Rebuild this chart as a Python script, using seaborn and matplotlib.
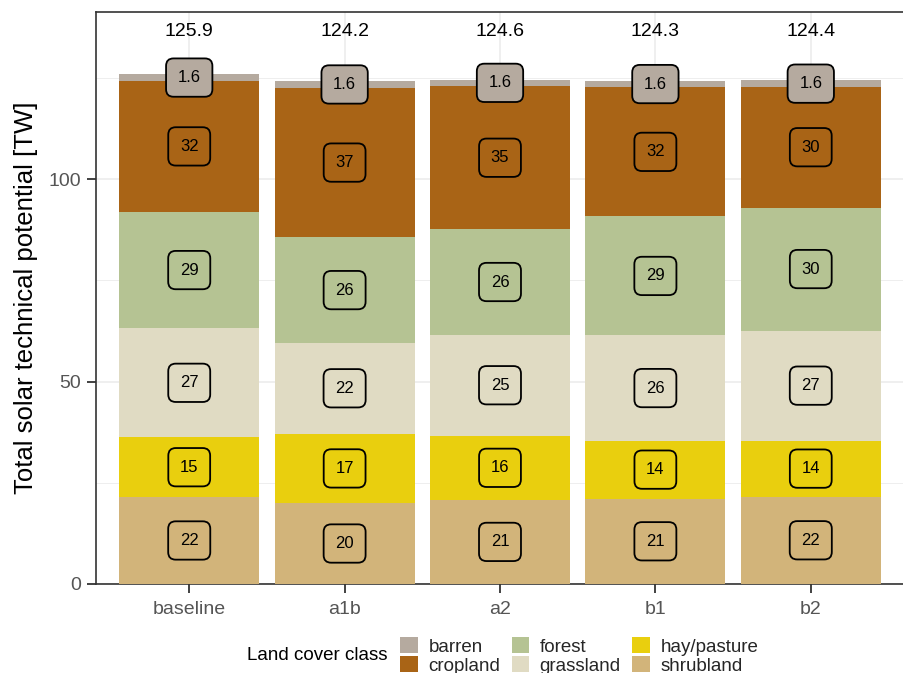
import numpy as np
import pandas as pd
import matplotlib
matplotlib.use("Agg")
import matplotlib.pyplot as plt
from matplotlib.patches import Patch
import seaborn as sns

# scenarios and land cover classes (stacking order bottom -> top)
scenarios = ["baseline", "a1b", "a2", "b1", "b2"]
classes = ["shrubland", "hay/pasture", "grassland", "forest", "cropland", "barren"]

shrubland = [21.5, 20.0, 20.8, 21.1, 21.6]
hay_pasture = [14.7, 17.1, 15.8, 14.3, 13.8]
grassland = [27.0, 22.5, 25.0, 26.0, 27.2]
forest = [28.7, 26.0, 26.0, 29.4, 30.4]
cropland = [32.4, 37.0, 35.4, 31.9, 29.8]
barren = [1.6, 1.6, 1.6, 1.6, 1.6]
totals = [125.9, 124.2, 124.6, 124.3, 124.4]

colors = {
    "barren": "#B5AA9F",
    "cropland": "#A96416",
    "forest": "#B5C393",
    "grassland": "#E0DBC3",
    "hay/pasture": "#E9CF0E",
    "shrubland": "#D2B47A",
}

df = pd.DataFrame({
    "scenario": scenarios,
    "shrubland": shrubland,
    "hay/pasture": hay_pasture,
    "grassland": grassland,
    "forest": forest,
    "cropland": cropland,
    "barren": barren,
})
cum = df[classes].cumsum(axis=1)
cum["scenario"] = df["scenario"]

sns.set_theme(style="white")
plt.rcParams["font.family"] = ["Liberation Sans", "DejaVu Sans"]

fig = plt.figure(figsize=(9.04, 6.73), dpi=100)
ax = fig.add_axes([96 / 904, 1 - 584 / 673, 808 / 904, 572 / 673])

# stacked bars: draw cumulative heights from the top layer down
for i, cls in enumerate(reversed(classes)):
    sns.barplot(data=cum, x="scenario", y=cls, order=scenarios, color=colors[cls],
                saturation=1, width=0.9, edgecolor="none", linewidth=0,
                errorbar=None, ax=ax, zorder=2 + i)

# segment labels
for cls in classes:
    mids = cum[cls] - df[cls] / 2
    for xi, (v, m) in enumerate(zip(df[cls], mids)):
        ax.text(xi, m, f"{v:.2g}", ha="center", va="center", fontsize=12,
                color="black", zorder=20,
                bbox=dict(boxstyle="round,pad=0.7,rounding_size=0.45",
                          fc=colors[cls], ec="black", lw=1.3))

# totals on top
for xi, t in enumerate(totals):
    ax.text(xi, 136.4, f"{t:.1f}", ha="center", va="center", fontsize=14,
            color="black", zorder=20)

ax.set_ylim(0, 141.3)
ax.set_xlim(-0.6, 4.6)
ax.set_yticks([0, 50, 100])
ax.set_yticks([25, 75, 125], minor=True)
ax.grid(True, which="major", color="#EBEBEB", lw=1.1, zorder=0)
ax.grid(True, which="minor", axis="y", color="#EBEBEB", lw=0.6, zorder=0)
ax.set_axisbelow(True)

for s in ax.spines.values():
    s.set_color("#333333")
    s.set_linewidth(1.2)
ax.tick_params(axis="both", which="major", length=6.5, width=1.3, color="#333333",
               labelsize=14, labelcolor="#555555", direction="out",
               bottom=True, left=True)
ax.tick_params(axis="x", pad=6)
ax.tick_params(axis="y", pad=4)
ax.tick_params(axis="y", which="minor", length=0)
ax.set_xlabel("")
ax.set_ylabel("Total solar technical potential [TW]", fontsize=18.5, color="black",
              labelpad=8)

# legend: title on the left, 3 columns filled column-wise
legend_order = ["barren", "cropland", "forest", "grassland", "hay/pasture", "shrubland"]
handles = [Patch(facecolor=colors[c], edgecolor="none", label=c) for c in legend_order]
fig.text(388 / 904, 1 - 655 / 673, "Land cover class", ha="right", va="center",
         fontsize=13.5, color="black")
fig.legend(handles=handles, ncol=3, loc="center left",
           bbox_to_anchor=(391 / 904, 1 - 656 / 673), frameon=False, fontsize=13.5,
           handlelength=0.95, handleheight=0.95, handletextpad=0.55,
           labelspacing=0.02, columnspacing=0.6, borderpad=0)

fig.savefig("out.png", dpi=100)
